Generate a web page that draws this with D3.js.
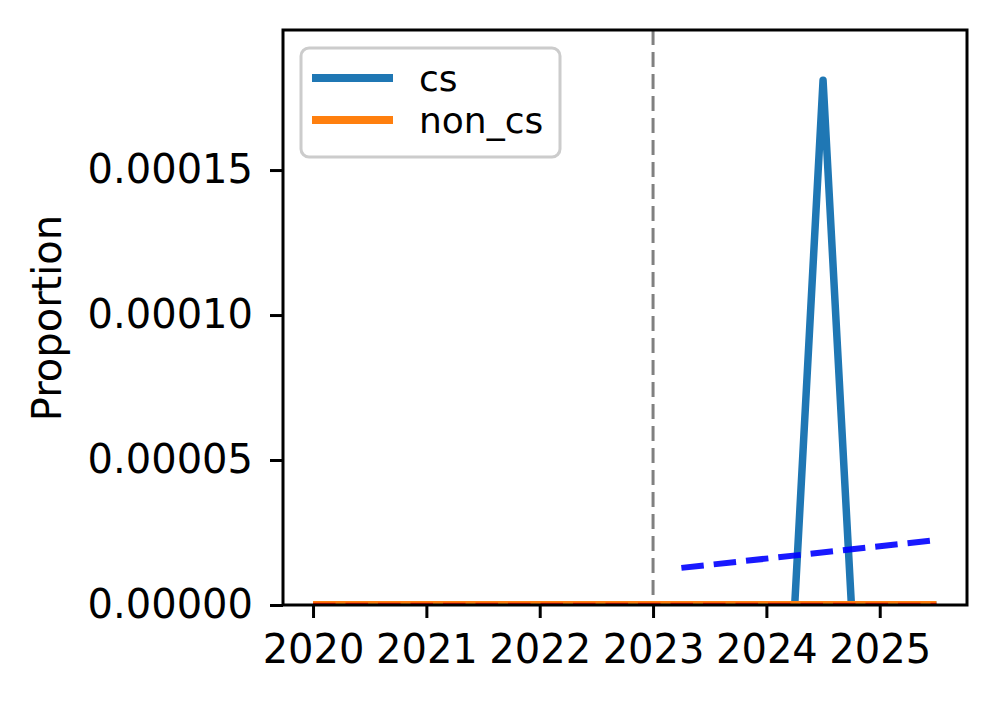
<!DOCTYPE html>
<html>
<head>
<script src="https://d3js.org/d3.v7.min.js"></script>
<style>
  body { margin: 0; background: #fff; }
  text { font-family: "DejaVu Sans", sans-serif; fill: #000; }
</style>
</head>
<body>
<div id="chart"></div>
<script>
// quarterly time points
const quarters = [2020, 2020.25, 2020.5, 2020.75, 2021, 2021.25, 2021.5, 2021.75,
  2022, 2022.25, 2022.5, 2022.75, 2023, 2023.25, 2023.5, 2023.75,
  2024, 2024.25, 2024.5, 2024.75, 2025, 2025.25, 2025.5];
const csValues = [0, 0, 0, 0, 0, 0, 0, 0, 0, 0, 0, 0, 0, 0, 0, 0,
  0, 0, 0.000181, 0, 0, 0, 0];
const nonCsValues = [0, 0, 0, 0, 0, 0, 0, 0, 0, 0, 0, 0, 0, 0, 0, 0,
  0, 0, 0, 0, 0, 0, 0];
const csTrendX = [2023.25, 2025.5];
const csTrendY = [0.0000128, 0.0000224];
const nonCsTrendX = [2020, 2025.5];
const nonCsTrendY = [0, 0];
const xTicks = [2020, 2021, 2022, 2023, 2024, 2025];
const yTicks = [0, 0.00005, 0.0001, 0.00015];
const cutoffYear = 2023;

const W = 997, H = 704;
const margin = { top: 30, right: 30, bottom: 99, left: 283 };
const w = W - margin.left - margin.right;
const h = H - margin.top - margin.bottom;

const svg = d3.select('#chart').append('svg')
  .attr('width', W).attr('height', H);
svg.append('defs').append('clipPath').attr('id', 'plotclip')
  .append('rect').attr('width', w).attr('height', h);
const g = svg.append('g')
  .attr('transform', 'translate(' + margin.left + ',' + margin.top + ')');

const x = d3.scaleLinear().domain([2019.735, 2025.77]).range([0, w]);
const y = d3.scaleLinear().domain([0, 0.0001983]).range([h, 0]);

const line = d3.line().x(d => x(d[0])).y(d => y(d[1]));
const plot = g.append('g').attr('clip-path', 'url(#plotclip)');

// cutoff line
plot.append('line')
  .attr('x1', x(cutoffYear)).attr('x2', x(cutoffYear))
  .attr('y1', 0).attr('y2', h)
  .attr('stroke', '#808080').attr('stroke-width', 3)
  .attr('stroke-dasharray', '15,7');

// series
plot.append('path')
  .datum(quarters.map((q, i) => [q, csValues[i]]))
  .attr('d', line).attr('fill', 'none')
  .attr('stroke', '#1f77b4').attr('stroke-width', 7.5)
  .attr('stroke-linejoin', 'round').attr('stroke-linecap', 'butt');

plot.append('path')
  .datum(quarters.map((q, i) => [q, nonCsValues[i]]))
  .attr('d', line).attr('fill', 'none')
  .attr('stroke', '#ff7f0e').attr('stroke-width', 8);

// trends
plot.append('path')
  .datum(csTrendX.map((q, i) => [q, csTrendY[i]]))
  .attr('d', line).attr('fill', 'none')
  .attr('stroke', '#0000ff').attr('stroke-opacity', 0.9).attr('stroke-width', 6)
  .attr('stroke-dasharray', '22.5,10');

plot.append('path')
  .datum(nonCsTrendX.map((q, i) => [q, nonCsTrendY[i]]))
  .attr('d', line).attr('fill', 'none')
  .attr('stroke', '#ff0000').attr('stroke-opacity', 0.8).attr('stroke-width', 4.5)
  .attr('stroke-dasharray', '22.5,10');

// axes
const xAxis = g.append('g')
  .attr('transform', 'translate(0,' + h + ')')
  .call(d3.axisBottom(x).tickValues(xTicks).tickFormat(d3.format('d')).tickSize(13).tickPadding(17));
const yAxis = g.append('g')
  .call(d3.axisLeft(y).tickValues(yTicks).tickFormat(d3.format('.5f')).tickSize(13).tickPadding(17));
[xAxis, yAxis].forEach(a => {
  a.select('.domain').remove();
  a.selectAll('line').attr('stroke', '#000').attr('stroke-width', 3);
  a.selectAll('text').style('font-size', '40px').style('font-family', '"DejaVu Sans", sans-serif');
});

// frame
g.append('rect')
  .attr('width', w).attr('height', h)
  .attr('fill', 'none').attr('stroke', '#000').attr('stroke-width', 3);

// y label
svg.append('text')
  .attr('transform', 'translate(61,318) rotate(-90)')
  .attr('text-anchor', 'middle')
  .style('font-size', '40px')
  .text('Proportion');

// legend
const legend = svg.append('g').attr('transform', 'translate(301,48)');
legend.append('rect')
  .attr('width', 259).attr('height', 109).attr('rx', 8)
  .attr('fill', '#fff').attr('fill-opacity', 0.8)
  .attr('stroke', '#cccccc').attr('stroke-width', 3);
const items = [['cs', '#1f77b4'], ['non_cs', '#ff7f0e']];
items.forEach((it, i) => {
  const yy = 30 + i * 42;
  legend.append('line')
    .attr('x1', 11).attr('x2', 92).attr('y1', yy).attr('y2', yy)
    .attr('stroke', it[1]).attr('stroke-width', 8);
  legend.append('text')
    .attr('x', 118).attr('y', yy + 13)
    .style('font-size', '36px')
    .text(it[0]);
});
</script>
</body>
</html>
